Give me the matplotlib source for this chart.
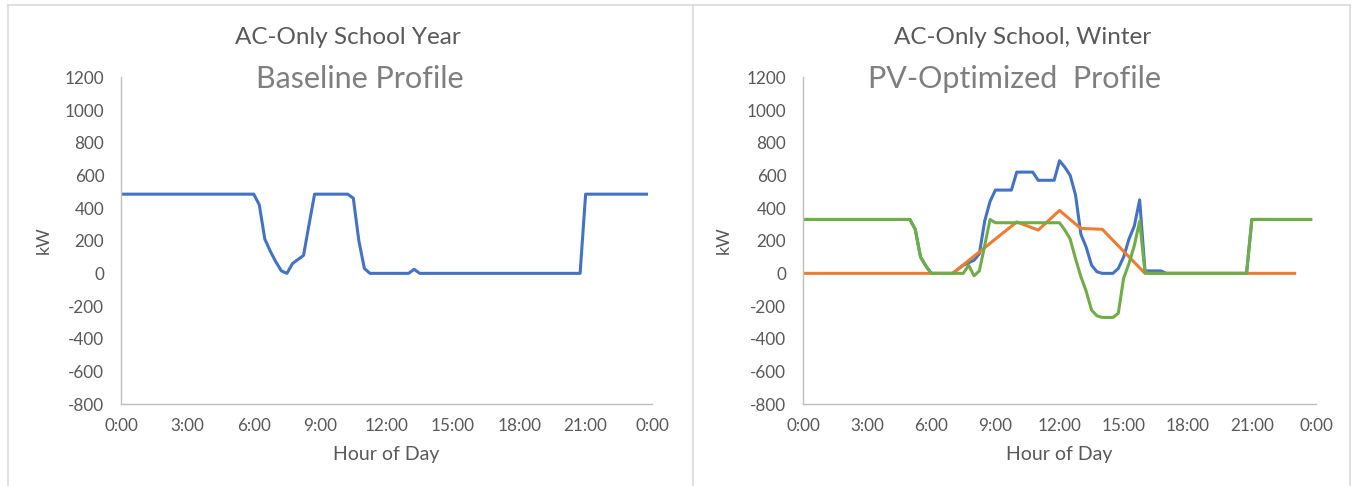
import matplotlib as mpl
import matplotlib.pyplot as plt
import numpy as np
from matplotlib.lines import Line2D

mpl.rcParams['font.family'] = ['Lato', 'DejaVu Sans']
mpl.rcParams['axes.unicode_minus'] = False

W, H = 1355, 486

# 15-minute load data, 0:00 .. 23:45
t15 = np.arange(96) / 4.0

baseline_kw = ([485] * 25 + [420, 210, 135, 70, 15, 0, 60, 85, 110, 300, 485]
               + [485] * 6 + [460, 200, 30] + [0] * 8 + [25] + [0] * 30
               + [485] * 12)

load_kw = ([330] * 21 + [270, 100, 45] + [0] * 5
           + [25, 50, 65, 80, 120, 320, 440]
           + [510] * 4 + [620] * 4 + [570] * 4
           + [690, 650, 600, 480, 240, 160, 50, 10]
           + [0] * 3 + [30, 100, 210, 290, 450]
           + [15] * 4 + [0] * 16 + [330] * 12)

net_kw = ([330] * 21 + [270, 100, 45] + [0] * 7
          + [50, -15, 15, 170, 330]
          + [310] * 13
          + [265, 210, 90, -20, -110, -225, -260, -270, -270, -270, -245,
             -30, 60, 170, 320, 5]
          + [0] * 19 + [330] * 12)

# hourly PV output, 0:00 .. 23:00
t_pv = np.arange(24)
pv_kw = [0] * 8 + [105, 210, 315, 265, 385, 275, 270, 135] + [0] * 8

blue = '#4472C4'
orange = '#ED7D31'
green = '#70AD47'
dark = '#595959'
light = '#7F7F7F'

xticks = np.arange(0, 25, 3)
xlabels = ['0:00', '3:00', '6:00', '9:00', '12:00', '15:00', '18:00', '21:00', '0:00']

fig = plt.figure(figsize=(W / 100, H / 100), dpi=100)
ax1 = fig.add_axes([121 / W, 1 - 404 / H, 531 / W, 326.6 / H])
ax2 = fig.add_axes([803 / W, 1 - 404 / H, 513 / W, 326.6 / H])

ax1.plot(t15, baseline_kw, color=blue, lw=2.2, solid_joinstyle='round')
ax2.plot(t15, load_kw, color=blue, lw=2.2, solid_joinstyle='round')
ax2.plot(t_pv, pv_kw, color=orange, lw=2.2, solid_joinstyle='round')
ax2.plot(t15, net_kw, color=green, lw=2.2, solid_joinstyle='round')

for ax, kwx in ((ax1, -0.13), (ax2, -0.138)):
    ax.set_xlim(0, 24)
    ax.set_ylim(-800, 1200)
    ax.set_yticks(np.arange(-800, 1201, 200))
    ax.set_xticks(xticks)
    ax.set_xticklabels(xlabels)
    ax.tick_params(length=0, labelsize=12.3, labelcolor=dark)
    ax.tick_params(axis='y', pad=12)
    ax.tick_params(axis='x', pad=10)
    for side in ('top', 'right'):
        ax.spines[side].set_visible(False)
    for side in ('left', 'bottom'):
        ax.spines[side].set_color('#BFBFBF')
        ax.spines[side].set_linewidth(1.0)
    ax.set_ylabel('kW', fontsize=13, color=dark)
    ax.set_xlabel('Hour of Day', fontsize=14, color=dark)
    ax.yaxis.set_label_coords(kwx, 0.502)
    ax.xaxis.set_label_coords(0.5, -0.13)
    ax.patch.set_alpha(0)

fig.text(348 / W, 1 - 37 / H, 'AC-Only School Year', ha='center', va='center',
         fontsize=17.5, color=dark)
fig.text(360 / W, 1 - 79 / H, 'Baseline Profile', ha='center', va='center',
         fontsize=22, color=light)
fig.text(1023 / W, 1 - 37 / H, 'AC-Only School, Winter', ha='center', va='center',
         fontsize=17.5, color=dark)
fig.text(1015 / W, 1 - 79 / H, 'PV-Optimized  Profile', ha='center', va='center',
         fontsize=22, color=light)

# chart area borders
frame = '#D9D9D9'
for x in (8, 693, 1350):
    fig.add_artist(Line2D([x / W, x / W], [0, 1 - 5 / H], color=frame, lw=1.2))
fig.add_artist(Line2D([8 / W, 1350 / W], [1 - 5 / H, 1 - 5 / H], color=frame, lw=1.2))

fig.savefig('out.png', dpi=100)
